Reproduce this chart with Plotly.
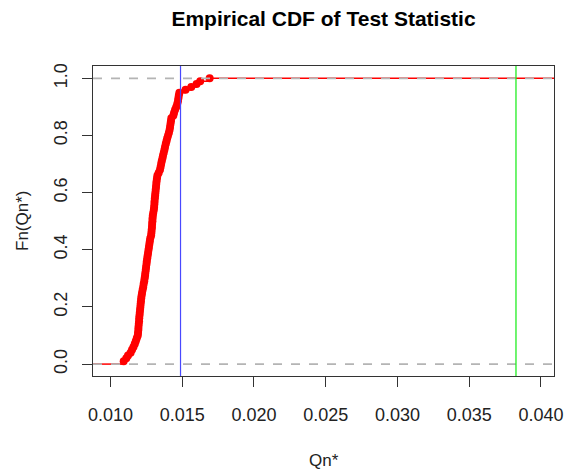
import plotly.graph_objects as go

# Sorted test statistic values (n = 100)
qn = [0.01092, 0.01110, 0.01122, 0.01140, 0.01150, 0.01160, 0.01169, 0.01176, 0.01183, 0.01190,
      0.01192, 0.01194, 0.01195, 0.01197, 0.01199, 0.01200, 0.01202, 0.01204, 0.01206, 0.01208,
      0.01210, 0.01212, 0.01214, 0.01217, 0.01220, 0.01224, 0.01228, 0.01231, 0.01235, 0.01238,
      0.01241, 0.01243, 0.01246, 0.01248, 0.01251, 0.01253, 0.01256, 0.01259, 0.01262, 0.01265,
      0.01268, 0.01271, 0.01274, 0.01277, 0.01283, 0.01285, 0.01287, 0.01289, 0.01290, 0.01292,
      0.01293, 0.01295, 0.01298, 0.01302, 0.01304, 0.01306, 0.01307, 0.01309, 0.01311, 0.01313,
      0.01315, 0.01317, 0.01319, 0.01321, 0.01324, 0.01327, 0.01336, 0.01345, 0.01349, 0.01353,
      0.01357, 0.01362, 0.01366, 0.01371, 0.01376, 0.01380, 0.01385, 0.01390, 0.01395, 0.01401,
      0.01407, 0.01412, 0.01415, 0.01418, 0.01421, 0.01424, 0.01438, 0.01443, 0.01450, 0.01458,
      0.01465, 0.01470, 0.01473, 0.01476, 0.01480, 0.01523, 0.01563, 0.01600, 0.01625, 0.01691]
blue_line = 0.01488
green_line = 0.03826
x_range = [0.00878, 0.04091]
y_range = [-0.0417, 1.0433]
x_ticks = [0.010, 0.015, 0.020, 0.025, 0.030, 0.035, 0.040]
x_tick_labels = ["0.010", "0.015", "0.020", "0.025", "0.030", "0.035", "0.040"]
y_ticks = [0.0, 0.2, 0.4, 0.6, 0.8, 1.0]
y_tick_labels = ["0.0", "0.2", "0.4", "0.6", "0.8", "1.0"]

n = len(qn)
fn = [(i + 1) / n for i in range(n)]

# horizontal step segments
seg_x, seg_y = [x_range[0], qn[0], None], [0, 0, None]
for i in range(n):
    nxt = qn[i + 1] if i + 1 < n else x_range[1]
    seg_x += [qn[i], nxt, None]
    seg_y += [fn[i], fn[i], None]

FONT = "Liberation Sans, Arial, sans-serif"
fig = go.Figure()
fig.add_trace(go.Scatter(x=seg_x, y=seg_y, mode="lines",
                         line=dict(color="#ff0000", width=1.5), hoverinfo="skip"))
fig.add_trace(go.Scatter(x=qn, y=fn, mode="markers",
                         marker=dict(color="#ff0000", size=8, line=dict(width=0))))

for yv in (0, 1):
    fig.add_shape(type="line", xref="paper", x0=0, x1=1, yref="y", y0=yv, y1=yv,
                  line=dict(color="#b4b4b4", width=1.6, dash="dash"), layer="above")
fig.add_shape(type="line", xref="x", x0=blue_line, x1=blue_line, yref="paper", y0=0, y1=1,
              line=dict(color="#4848ff", width=1.2), layer="above")
fig.add_shape(type="line", xref="x", x0=green_line, x1=green_line, yref="paper", y0=0, y1=1,
              line=dict(color="#22ee22", width=1.3), layer="above")

axis_common = dict(showgrid=False, zeroline=False, showline=True, mirror=True,
                   linecolor="#333333", linewidth=1, ticks="outside", ticklen=10,
                   tickcolor="#333333", tickwidth=1, automargin=False,
                   tickfont=dict(family=FONT, size=18, color="#222222"))
fig.update_xaxes(range=x_range, tickvals=x_ticks, ticktext=x_tick_labels,
                 ticklabelstandoff=12, **axis_common)
fig.update_yaxes(range=y_range, tickvals=y_ticks, ticktext=y_tick_labels,
                 tickangle=-90, ticklabelstandoff=8, **axis_common)

fig.update_layout(
    width=564, height=472,
    margin=dict(l=93, r=10, t=66, b=96),
    plot_bgcolor="white", paper_bgcolor="white",
    showlegend=False,
    title=dict(text="<b>Empirical CDF of Test Statistic</b>", x=0.5, xref="paper",
               y=1 - 19 / 472, yref="container", yanchor="middle", xanchor="center",
               font=dict(family=FONT, size=21, color="black")),
    annotations=[
        dict(text="Qn*", xref="paper", yref="paper", x=0.5, y=-84 / 310,
             xanchor="center", yanchor="middle", showarrow=False,
             font=dict(family=FONT, size=17, color="#222222")),
        dict(text="Fn(Qn*)", xref="paper", yref="paper", x=-71 / 461, y=0.5,
             xanchor="center", yanchor="middle", textangle=-90, showarrow=False,
             font=dict(family=FONT, size=17, color="#222222")),
    ],
)

fig.write_html("out.html")
